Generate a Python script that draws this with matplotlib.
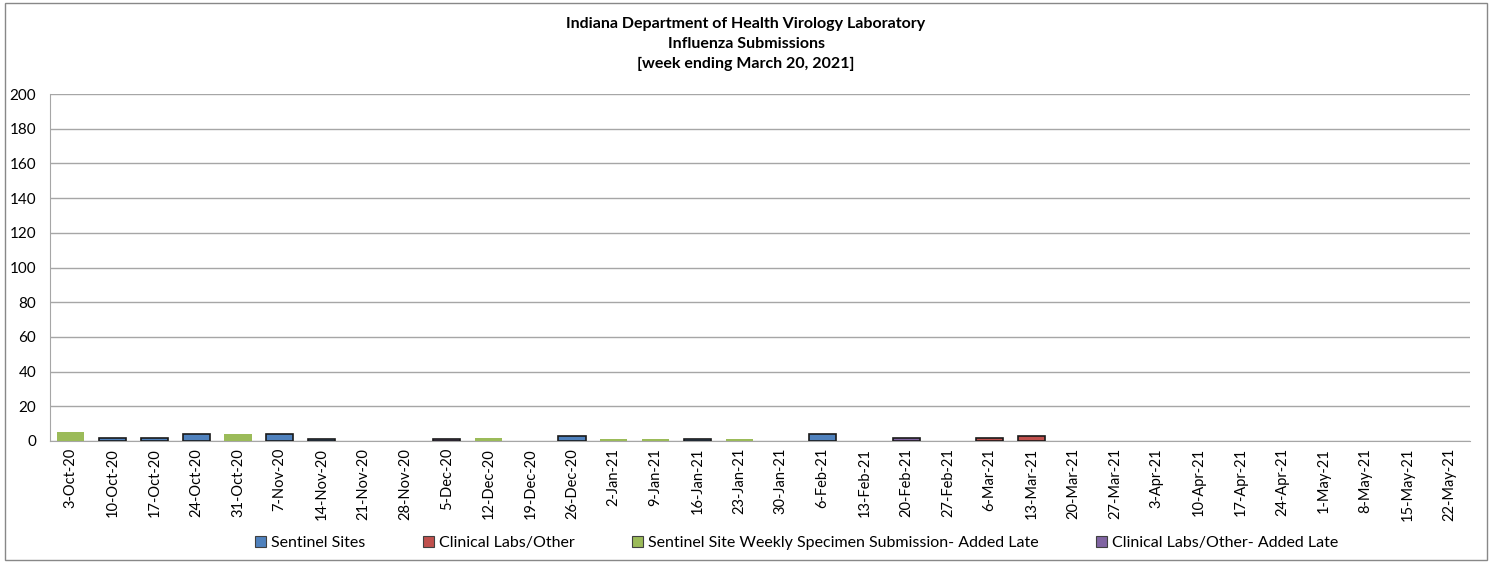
import matplotlib
matplotlib.use("Agg")
import matplotlib.pyplot as plt
import numpy as np
from matplotlib.patches import Rectangle

plt.rcParams['font.family'] = ['Lato', 'DejaVu Sans']

weeks = ["3-Oct-20", "10-Oct-20", "17-Oct-20", "24-Oct-20", "31-Oct-20", "7-Nov-20",
         "14-Nov-20", "21-Nov-20", "28-Nov-20", "5-Dec-20", "12-Dec-20", "19-Dec-20",
         "26-Dec-20", "2-Jan-21", "9-Jan-21", "16-Jan-21", "23-Jan-21", "30-Jan-21",
         "6-Feb-21", "13-Feb-21", "20-Feb-21", "27-Feb-21", "6-Mar-21", "13-Mar-21",
         "20-Mar-21", "27-Mar-21", "3-Apr-21", "10-Apr-21", "17-Apr-21", "24-Apr-21",
         "1-May-21", "8-May-21", "15-May-21", "22-May-21"]

sentinel_sites = [0, 2, 2, 4, 0, 4, 1, 0, 0, 0, 0, 0, 3, 0, 0, 1, 0, 0, 4, 0, 0, 0, 0, 0,
                  0, 0, 0, 0, 0, 0, 0, 0, 0, 0]
clinical_labs = [0, 0, 0, 0, 0, 0, 0, 0, 0, 0, 0, 0, 0, 0, 0, 0, 0, 0, 0, 0, 0, 0, 2, 3,
                 0, 0, 0, 0, 0, 0, 0, 0, 0, 0]
sentinel_late = [5, 0, 0, 0, 4, 0, 0, 0, 0, 0, 2, 0, 0, 1, 1, 0, 1, 0, 0, 0, 0, 0, 0, 0,
                 0, 0, 0, 0, 0, 0, 0, 0, 0, 0]
clinical_late = [0, 0, 0, 0, 0, 0, 0, 0, 0, 1, 0, 0, 0, 0, 0, 0, 0, 0, 0, 0, 2, 0, 0, 0,
                 0, 0, 0, 0, 0, 0, 0, 0, 0, 0]

series = [
    ("Sentinel Sites", sentinel_sites, "#4F81BD", "#1a1a1a"),
    ("Clinical Labs/Other", clinical_labs, "#C0504D", "#1a1a1a"),
    ("Sentinel Site Weekly Specimen Submission- Added Late", sentinel_late, "#9BBB59", "none"),
    ("Clinical Labs/Other- Added Late", clinical_late, "#8064A2", "#1a1a1a"),
]

fig = plt.figure(figsize=(14.92, 5.62), dpi=100)
ax = fig.add_axes([50/1492, 1-441/562, 1420/1492, (441-94)/562])

x = np.arange(len(weeks))
bottom = np.zeros(len(weeks))
handles = []
for name, vals, col, ec in series:
    v = np.array(vals, dtype=float)
    m = v > 0
    ax.bar(x[m], v[m], width=0.65, bottom=bottom[m], color=col,
           edgecolor=ec, linewidth=1.2, label=name, zorder=3)
    bottom += v
    handles.append(Rectangle((0, 0), 1, 1, facecolor=col, edgecolor="#404040", linewidth=0.8))

ax.set_xlim(-0.5, len(weeks) - 0.5)
ax.set_ylim(0, 200)
ax.set_yticks(np.arange(0, 201, 20))
ax.yaxis.grid(True, color="#a6a6a6", linewidth=1)
ax.set_axisbelow(True)
ax.set_xticks(x)
ax.set_xticklabels(weeks, rotation=90, fontsize=10.5)
ax.tick_params(axis='y', labelsize=11, length=0, pad=10)
ax.tick_params(axis='x', length=0, pad=5)
for s in ["top", "right"]:
    ax.spines[s].set_visible(False)
ax.spines["left"].set_color("#a6a6a6")
ax.spines["bottom"].set_color("#a6a6a6")

fig.text(0.5, 1-44/562, "Indiana Department of Health Virology Laboratory\nInfluenza Submissions\n[week ending March 20, 2021]",
         ha="center", va="center", fontsize=11.5, fontweight="bold", linespacing=1.5)

fig.legend(handles, [s[0] for s in series], loc="center", bbox_to_anchor=(0.534, 1-543/562),
           ncol=4, frameon=False, fontsize=11.5, handlelength=0.7, handleheight=0.7,
           handletextpad=0.3, columnspacing=3.6)

border = Rectangle((5/1492, 2/562), 1482/1492, 557/562, transform=fig.transFigure,
                   fill=False, edgecolor="#888888", linewidth=1)
fig.patches.append(border)

fig.savefig("out.png", dpi=100, facecolor="white")
